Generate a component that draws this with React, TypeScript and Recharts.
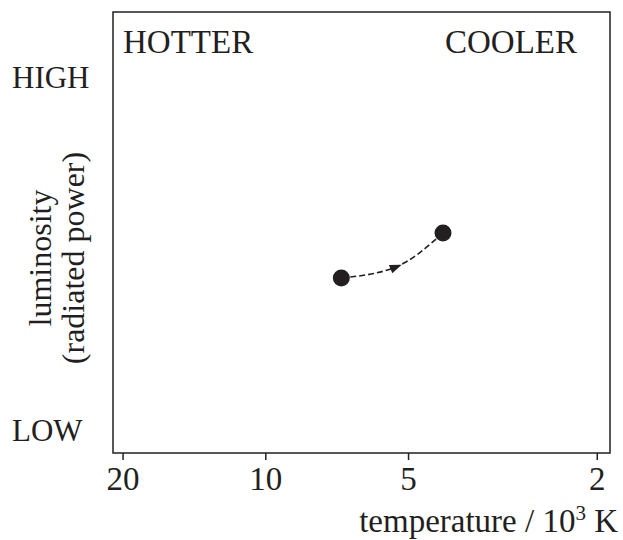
import React from "react";
import {
  ComposedChart,
  Line,
  XAxis,
  YAxis,
  ReferenceArea,
} from "recharts";

const INK = "#231f20";
const FONT = '"Liberation Serif", "DejaVu Serif", serif';

// temperature in 10^3 K (log axis, hot on the left), luminosity on an arbitrary 0-100 scale
const temperatures = [6.93, 5.31, 4.23];
const luminosities = [39.7, 42.2, 49.9];
const tempTicks = [20, 10, 5, 2];
const tempDomain = [1.88, 21];
const lumTicks = [5, 85];
const lumTickLabels: Record<number, string> = { 5: "LOW", 85: "HIGH" };

const track = temperatures.map((t, i) => ({ t, lum: luminosities[i] }));

function TrackDot(props: any) {
  const { cx, cy, index } = props;
  if (index === 1) {
    // arrowhead showing the direction of evolution
    return (
      <g transform={`translate(${cx},${cy}) rotate(-22)`}>
        <polygon points="6,0 -6,-4.5 -6,4.5" fill={INK} />
      </g>
    );
  }
  return <circle cx={cx} cy={cy} r={8.5} fill={INK} />;
}

function LumTick(props: any) {
  const { y, payload } = props;
  return (
    <text x={12} y={y} dy={10} textAnchor="start" fontSize={31} fontFamily={FONT} fill={INK}>
      {lumTickLabels[payload.value]}
    </text>
  );
}

function BoxLabels(props: any) {
  const { x, y, width } = props.viewBox;
  return (
    <g fontFamily={FONT} fontSize={33} fill={INK}>
      <text x={x + 10} y={y + 41}>HOTTER</text>
      <text x={x + width - 33} y={y + 41} textAnchor="end">COOLER</text>
    </g>
  );
}

function YTitle() {
  return (
    <g fontFamily={FONT} fontSize={32} fill={INK}>
      <text transform="translate(51,258) rotate(-90)" textAnchor="middle">luminosity</text>
      <text transform="translate(84,258) rotate(-90)" textAnchor="middle">(radiated power)</text>
    </g>
  );
}

function XTitle() {
  return (
    <text x={618} y={532} textAnchor="end" fontFamily={FONT} fontSize={33} fill={INK}>
      temperature / 10<tspan dy={-12} fontSize={21}>3</tspan>
      <tspan dy={12}> K</tspan>
    </text>
  );
}

export default function App() {
  return (
    <div style={{ position: "absolute", left: 0, top: 0, background: "#fff" }}>
      <ComposedChart
        width={623}
        height={540}
        data={track}
        margin={{ top: 12, right: 13, bottom: 0, left: 0 }}
      >
        <XAxis
          dataKey="t"
          type="number"
          scale="log"
          domain={tempDomain}
          reversed
          ticks={tempTicks}
          allowDataOverflow
          axisLine={false}
          tickLine={{ stroke: INK, strokeWidth: 1.5 }}
          tickSize={7}
          tickMargin={7}
          height={87}
          tick={{ fontSize: 33, fontFamily: FONT, fill: INK }}
          label={<XTitle />}
        />
        <YAxis
          dataKey="lum"
          type="number"
          domain={[0, 100]}
          ticks={lumTicks}
          width={113}
          axisLine={false}
          tickLine={false}
          tick={<LumTick />}
          label={<YTitle />}
        />
        <ReferenceArea
          x1={tempDomain[1]}
          x2={tempDomain[0]}
          y1={0}
          y2={100}
          fill="none"
          stroke={INK}
          strokeWidth={1.5}
          label={<BoxLabels />}
        />
        <Line
          dataKey="lum"
          type="monotone"
          stroke={INK}
          strokeWidth={1.6}
          strokeDasharray="6 3"
          dot={<TrackDot />}
          activeDot={false}
          isAnimationActive={false}
        />
      </ComposedChart>
    </div>
  );
}
